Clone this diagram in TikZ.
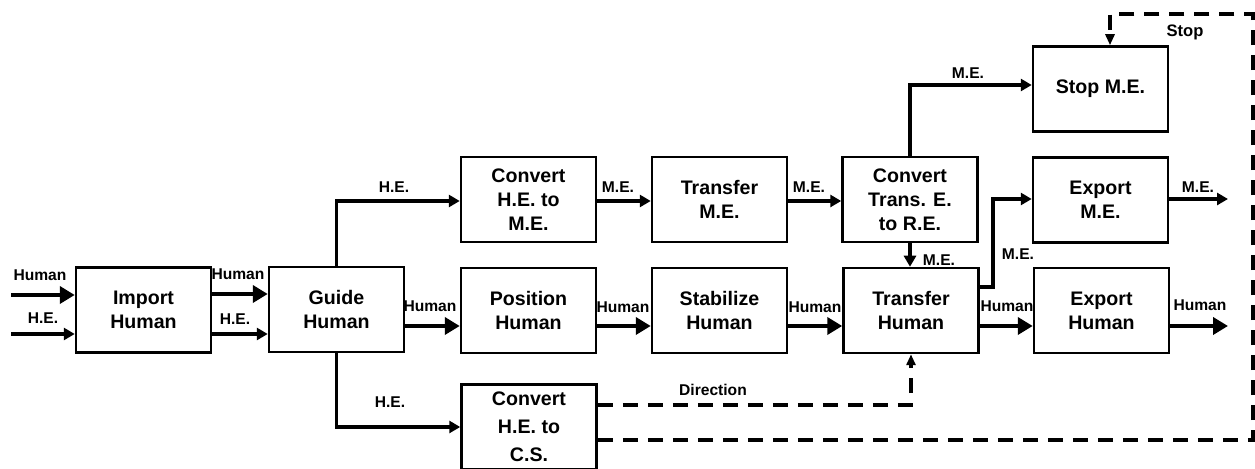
\documentclass[tikz,border=0pt]{standalone}
\usepackage{fontspec}
\setmainfont{Liberation Sans}
\usetikzlibrary{arrows.meta}
\begin{document}
\begin{tikzpicture}[x=0.5pt,y=-0.5pt,
  box/.style={draw, line width=1.25pt, minimum width=67.5pt, minimum height=42.5pt, inner sep=0pt, align=center, font=\fontsize{9.8}{12}\selectfont\bfseries},
  lbl/.style={anchor=base, inner sep=0pt, font=\fontsize{7.8}{9}\selectfont\bfseries},
  hum/.style={line width=2.35pt, -{Triangle[length=7.5pt,width=8.5pt]}},
  flow/.style={line width=1.65pt, -{Triangle[length=5.5pt,width=6pt]}},
  ctl/.style={line width=2pt, dash pattern=on 7.5pt off 5pt, -{Triangle[length=5.5pt,width=4.5pt]}}
]
\useasboundingbox (0,0) rectangle (1255,469);
% boxes
\node[box] (imp)   at (143.5,310)   {Import\\Human};
\node[box] (guide) at (336.5,309.5) {Guide\\Human};
\node[box] (pos)   at (528.5,310.5) {Position\\Human};
\node[box] (stab)  at (719.5,310.5) {Stabilize\\Human};
\node[box] (trh)   at (911,310.5)   {Transfer\\Human};
\node[box] (exh)   at (1101.5,310.5){Export\\Human};
\node[box] (cme)   at (528.5,199.5) {Convert\\H.E. to\\M.E.};
\node[box] (tme)   at (719.5,199.5) {Transfer\\M.E.};
\node[box] (ctr)   at (910,199.5)   {Convert\\Trans. E.\\to R.E.};
\node[box] (stop)  at (1100.5,89)   {Stop M.E.};
\node[box] (exme)  at (1100.5,200)  {Export\\M.E.};
\node[box, font=\fontsize{9.8}{14}\selectfont\bfseries] (ccs) at (529,427) {Convert\\H.E. to\\C.S.};
% helper coordinates
\coordinate (in1) at (11,295);
\coordinate (in2) at (11,334);
\coordinate (out1) at (1228,326);
\coordinate (out2) at (1228,199);
\coordinate (yh) at (0,294);
\coordinate (yhe) at (0,334);
\coordinate (ym) at (0,326);
\coordinate (yme) at (0,201);
\coordinate (ytrx) at (0,287);
\coordinate (yex) at (0,199);
\coordinate (ystop) at (0,85);
\coordinate (ycs) at (0,427);
\coordinate (ydir) at (0,405);
\coordinate (ydash) at (0,440);
\coordinate (ytop) at (0,14);
\coordinate (xbend) at (993,0);
\coordinate (xright) at (1253,0);
\coordinate (xstop) at (1110,0);
% connectors
\draw[hum] (in1) -- (imp.west |- in1);
\draw[flow] (in2) -- (imp.west |- in2);
\draw[hum] (imp.east |- yh) -- (guide.west |- yh);
\draw[flow] (imp.east |- yhe) -- (guide.west |- yhe);
\draw[hum] (guide.east |- ym) -- (pos.west |- ym);
\draw[hum] (pos.east |- ym) -- (stab.west |- ym);
\draw[hum] (stab.east |- ym) -- (trh.west |- ym);
\draw[hum] (trh.east |- ym) -- (exh.west |- ym);
\draw[hum] (exh.east |- ym) -- (out1);
\draw[flow] (guide.north) |- (cme.west |- yme);
\draw[flow] (cme.east |- yme) -- (tme.west |- yme);
\draw[flow] (tme.east |- yme) -- (ctr.west |- yme);
\draw[flow] (ctr.north) |- (stop.west |- ystop);
\draw[flow] (ctr.south) -- (trh.north -| ctr.south);
\draw[flow] (trh.east |- ytrx) -- (xbend |- ytrx) |- (exme.west |- yex);
\draw[flow] (exme.east |- yex) -- (out2);
\draw[flow] (guide.south) |- (ccs.west |- ycs);
\draw[ctl] (ccs.east |- ydir) -| (trh.south);
\draw[ctl] (ccs.east |- ydash) -| (xright |- ytop) -| (stop.north -| xstop);
% labels
\node[lbl] (l1) at (40,281) {Human};
\node[lbl] (l2) at (43,324) {H.E.};
\node[lbl] (l3) at (238,280) {Human};
\node[lbl] (l4) at (235,325) {H.E.};
\node[lbl] (l5) at (430,312) {Human};
\node[lbl] (l6) at (623,313) {Human};
\node[lbl] (l7) at (815,313) {Human};
\node[lbl] (l8) at (1007,312) {Human};
\node[lbl] (l9) at (1200,311) {Human};
\node[lbl] (l10) at (394,193) {H.E.};
\node[lbl] (l11) at (618,193) {M.E.};
\node[lbl] (l12) at (809,193) {M.E.};
\node[lbl] (l13) at (968,79) {M.E.};
\node[lbl] (l14) at (939,266) {M.E.};
\node[lbl] (l15) at (1018,260) {M.E.};
\node[lbl] (l16) at (1198,193) {M.E.};
\node[lbl] (l17) at (390,408) {H.E.};
\node[lbl] (l18) at (713,396) {Direction};
\node[lbl, font=\fontsize{8.3}{10}\selectfont\bfseries] (l19) at (1185,37) {Stop};
\end{tikzpicture}
\end{document}
